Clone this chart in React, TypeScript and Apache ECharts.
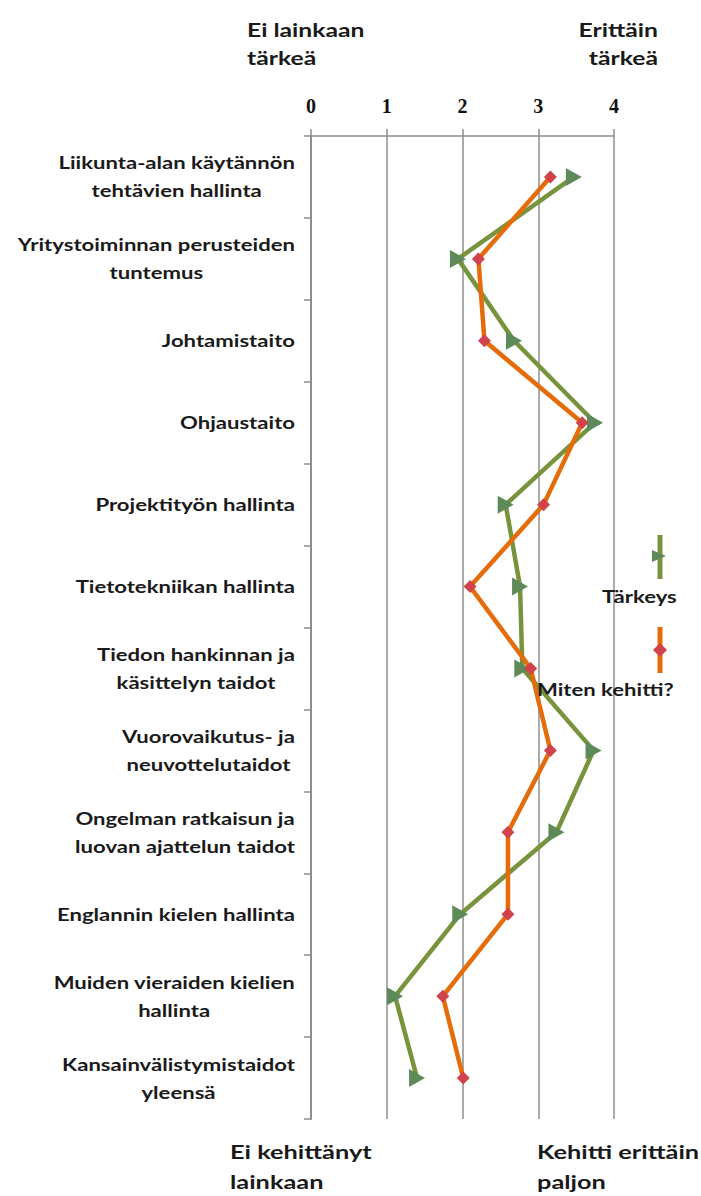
import React, { useEffect, useRef } from "react";
import * as echarts from "echarts";

const categories = [
  "Liikunta-alan käytännön\ntehtävien hallinta",
  "Yritystoiminnan perusteiden\ntuntemus",
  "Johtamistaito",
  "Ohjaustaito",
  "Projektityön hallinta",
  "Tietotekniikan hallinta",
  "Tiedon hankinnan ja\nkäsittelyn taidot",
  "Vuorovaikutus- ja\nneuvottelutaidot",
  "Ongelman ratkaisun ja\nluovan ajattelun taidot",
  "Englannin kielen hallinta",
  "Muiden vieraiden kielien\nhallinta",
  "Kansainvälistymistaidot\nyleensä",
];
const tarkeys = [3.47, 1.94, 2.68, 3.75, 2.57, 2.76, 2.79, 3.73, 3.24, 1.97, 1.11, 1.4];
const kehitti = [3.16, 2.21, 2.29, 3.58, 3.07, 2.1, 2.9, 3.16, 2.6, 2.6, 1.74, 2.01];
const xTicks = [0, 1, 2, 3, 4];

const GREEN = "#77933C";
const GREEN_MARK = "#5E8A5A";
const ORANGE = "#E46C0A";
const ORANGE_MARK = "#D2424A";
const GRAY = "#8E8E8E";
const FONT = "Lato";
const SX = 1.3;
const INK = "#1a1a1a";

const centered = (t: string) =>
  t
    .split("\n")
    .map((s) => "{c|" + s + "}")
    .join("\n");

export default function App() {
  const ref = useRef<HTMLDivElement>(null);
  useEffect(() => {
    const chart = echarts.init(ref.current!, null, { renderer: "svg" });
    chart.setOption({
      animation: false,
      backgroundColor: "#ffffff",
      grid: { left: 311, right: 87, top: 136, bottom: 77 },
      xAxis: {
        type: "value",
        position: "top",
        min: xTicks[0],
        max: xTicks[xTicks.length - 1],
        interval: 1,
        axisLine: { show: true, lineStyle: { color: GRAY, width: 1.5 } },
        axisTick: { show: true, length: 7, lineStyle: { color: GRAY, width: 1.5 } },
        splitLine: { show: true, lineStyle: { color: GRAY, width: 1.5 } },
        axisLabel: {
          margin: 20,
          fontFamily: "Liberation Serif",
          fontWeight: "bold",
          fontSize: 20,
          color: "#111",
        },
      },
      yAxis: {
        type: "category",
        inverse: true,
        data: categories,
        boundaryGap: true,
        axisLine: { show: true, lineStyle: { color: GRAY, width: 2 } },
        axisTick: { show: true, length: 7, lineStyle: { color: GRAY, width: 1.5 } },
        splitLine: { show: false },
        axisLabel: { show: false },
      },
      series: [
        {
          name: "Tärkeys",
          type: "line",
          data: tarkeys,
          symbol: "triangle",
          symbolSize: [18, 16],
          symbolRotate: -90,
          lineStyle: { color: GREEN, width: 4.5 },
          itemStyle: { color: GREEN_MARK },
          z: 3,
        },
        {
          name: "Miten kehitti?",
          type: "line",
          data: kehitti,
          symbol: "diamond",
          symbolSize: 13,
          lineStyle: { color: ORANGE, width: 4.5 },
          itemStyle: { color: ORANGE_MARK },
          z: 4,
        },
      ],
    });

    const catFont = { fontFamily: FONT, fontWeight: "bold" as const, fontSize: 17 };
    const catLabels = categories.map((c, i) => {
      const y = chart.convertToPixel({ yAxisIndex: 0 }, i) as number;
      return {
        type: "text",
        x: 295,
        y,
        scaleX: SX,
        style: {
          text: centered(c),
          ...catFont,
          fill: INK,
          align: "right",
          verticalAlign: "middle",
          lineHeight: 28,
          rich: { c: { ...catFont, align: "center", lineHeight: 28, fill: INK } },
        },
      };
    });

    const txt = (text: string, x: number, y: number, size: number, lh: number, align: string, vAlign = "top") => ({
      type: "text",
      x,
      y,
      scaleX: SX,
      z: 10,
      style: {
        text,
        fontFamily: FONT,
        fontWeight: "bold",
        fontSize: size,
        lineHeight: lh,
        fill: INK,
        align,
        verticalAlign: vAlign,
      },
    });

    chart.setOption({
      graphic: [
        ...catLabels,
        txt("Ei lainkaan\ntärkeä", 247, 16, 19, 28, "left"),
        txt("Erittäin\ntärkeä", 658, 16, 19, 28, "right"),
        txt("Ei kehittänyt\nlainkaan", 230, 1137, 19.5, 30, "left"),
        txt("Kehitti erittäin\npaljon", 537, 1137, 19.5, 30, "left"),
        // legend: Tärkeys
        { type: "line", shape: { x1: 660, y1: 535, x2: 660, y2: 579 }, style: { stroke: GREEN, lineWidth: 5 } },
        { type: "polygon", shape: { points: [[652, 550], [652, 562], [666, 556]] }, style: { fill: GREEN_MARK } },
        txt("Tärkeys", 602, 597, 17, 20, "left", "middle"),
        // legend: Miten kehitti?
        { type: "line", shape: { x1: 660, y1: 627, x2: 660, y2: 673 }, style: { stroke: ORANGE, lineWidth: 5 } },
        { type: "polygon", shape: { points: [[660, 643], [667, 650], [660, 657], [653, 650]] }, style: { fill: ORANGE_MARK } },
        txt("Miten kehitti?", 537, 690, 17, 20, "left", "middle"),
      ],
    });
    return () => chart.dispose();
  }, []);
  return (
    <div
      ref={ref}
      style={{ position: "fixed", left: 0, top: 0, width: 701, height: 1196, background: "#fff" }}
    />
  );
}
